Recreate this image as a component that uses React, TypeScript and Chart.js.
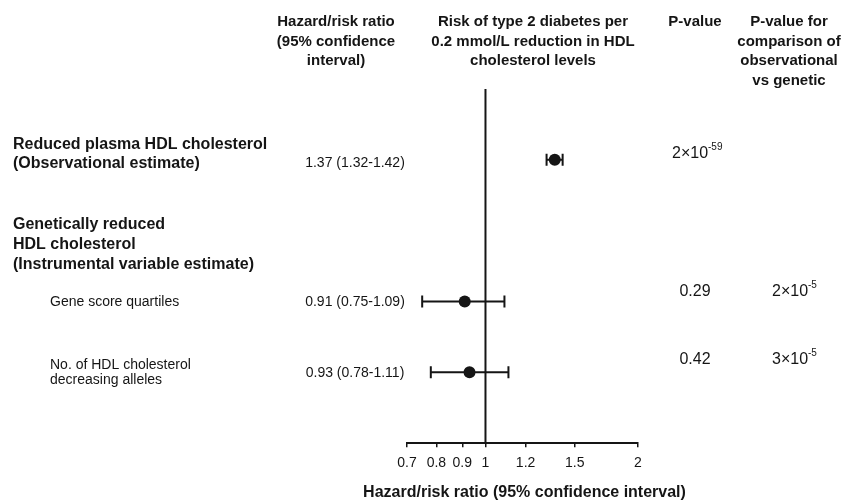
import React, { useEffect, useRef } from "react";
import { Chart, registerables } from "chart.js";

Chart.register(...registerables);

const FONT = "'Liberation Sans', Arial, Helvetica, sans-serif";
const INK = "#151515";

// Data
const rowPositions = [1, 3, 4];
const estimates = [1.37, 0.91, 0.93];
const lowerCI = [1.32, 0.75, 0.78];
const upperCI = [1.42, 1.09, 1.11];
const estimateLabels = ["1.37 (1.32-1.42)", "0.91 (0.75-1.09)", "0.93 (0.78-1.11)"];
const pValueBase = ["2×10", "0.29", "0.42"];
const pValueExp = ["-59", "", ""];
const pCompareBase = ["", "2×10", "3×10"];
const pCompareExp = ["", "-5", "-5"];
const tickValues = [0.7, 0.8, 0.9, 1, 1.2, 1.5, 2];
const axisTitle = "Hazard/risk ratio (95% confidence interval)";

const headerRatio = ["Hazard/risk ratio", "(95% confidence", "interval)"];
const headerRisk = ["Risk of type 2 diabetes per", "0.2 mmol/L reduction in HDL", "cholesterol levels"];
const headerP = ["P-value"];
const headerPCompare = ["P-value for", "comparison of", "observational", "vs genetic"];

const groupLabel1 = ["Reduced plasma HDL cholesterol", "(Observational estimate)"];
const groupLabel2 = ["Genetically reduced", "HDL cholesterol", "(Instrumental variable estimate)"];
const subLabel1 = ["Gene score quartiles"];
const subLabel2 = ["No. of HDL cholesterol", "decreasing alleles"];

function drawLines(ctx: CanvasRenderingContext2D, lines: string[], x: number, y: number, gap: number, align: CanvasTextAlign, font: string) {
  ctx.font = font;
  ctx.textAlign = align;
  lines.forEach((l, i) => ctx.fillText(l, x, y + i * gap));
}

function drawPower(ctx: CanvasRenderingContext2D, base: string, exp: string, x: number, y: number, align: "left" | "center") {
  if (!base) return;
  ctx.font = `16px ${FONT}`;
  const bw = ctx.measureText(base).width;
  ctx.font = `10px ${FONT}`;
  const ew = exp ? ctx.measureText(exp).width : 0;
  const start = align === "center" ? x - (bw + ew) / 2 : x;
  ctx.textAlign = "left";
  ctx.font = `16px ${FONT}`;
  ctx.fillText(base, start, y);
  if (exp) {
    ctx.font = `10px ${FONT}`;
    ctx.fillText(exp, start + bw, y - 7);
  }
}

const forestPlugin = {
  id: "forestExtras",
  beforeDatasetsDraw(chart: any) {
    const { ctx, chartArea } = chart;
    const xs = chart.scales.x;
    const ys = chart.scales.y;
    ctx.save();
    // reference line at 1
    const x1 = xs.getPixelForValue(1);
    ctx.strokeStyle = INK;
    ctx.lineWidth = 2;
    ctx.beginPath();
    ctx.moveTo(x1, chartArea.top);
    ctx.lineTo(x1, chartArea.bottom);
    ctx.stroke();
    // error bars
    rowPositions.forEach((r, i) => {
      const y = ys.getPixelForValue(r);
      const xl = xs.getPixelForValue(lowerCI[i]);
      const xh = xs.getPixelForValue(upperCI[i]);
      ctx.lineWidth = 2;
      ctx.beginPath();
      ctx.moveTo(xl, y);
      ctx.lineTo(xh, y);
      ctx.moveTo(xl, y - 6);
      ctx.lineTo(xl, y + 6);
      ctx.moveTo(xh, y - 6);
      ctx.lineTo(xh, y + 6);
      ctx.stroke();
    });
    ctx.restore();
  },
  afterDraw(chart: any) {
    const { ctx, chartArea } = chart;
    ctx.save();
    ctx.fillStyle = INK;
    ctx.textBaseline = "middle";
    const bold = `bold 16px ${FONT}`;
    const bold15 = `bold 15px ${FONT}`;
    const reg14 = `14px ${FONT}`;
    // headers
    drawLines(ctx, headerRatio, 336, 22, 19.5, "center", bold15);
    drawLines(ctx, headerRisk, 533, 22, 19.5, "center", bold15);
    drawLines(ctx, headerP, 695, 22, 19.5, "center", bold15);
    drawLines(ctx, headerPCompare, 789, 22, 19.5, "center", bold15);
    // row labels
    drawLines(ctx, groupLabel1, 13, 145, 18.5, "left", bold);
    drawLines(ctx, groupLabel2, 13, 225, 20, "left", bold);
    drawLines(ctx, subLabel1, 50, 302, 15, "left", reg14);
    drawLines(ctx, subLabel2, 50, 365, 15.5, "left", reg14);
    // estimates text
    const estY = [163, 302, 373];
    estimateLabels.forEach((t, i) => drawLines(ctx, [t], 355, estY[i], 0, "center", reg14));
    // p-values
    const pY = [154, 292, 360];
    pValueBase.forEach((b, i) => {
      if (pValueExp[i]) drawPower(ctx, b, pValueExp[i], 672, pY[i], "left");
      else drawPower(ctx, b, "", 695, pY[i], "center");
    });
    pCompareBase.forEach((b, i) => drawPower(ctx, b, pCompareExp[i], 772, pY[i], "left"));
    // x-axis title (drawn without width limit)
    drawLines(ctx, [axisTitle], (chartArea.left + chartArea.right) / 2 + 2, 493, 0, "center", bold);
    ctx.restore();
  },
};

export default function App() {
  const ref = useRef<HTMLCanvasElement | null>(null);
  useEffect(() => {
    if (!ref.current) return;
    const chart = new Chart(ref.current, {
      type: "scatter",
      data: {
        datasets: [
          {
            data: rowPositions.map((r, i) => ({ x: estimates[i], y: r })),
            pointRadius: 6,
            pointHoverRadius: 6,
            backgroundColor: INK,
            borderWidth: 0,
          },
        ],
      },
      options: {
        responsive: false,
        animation: false,
        devicePixelRatio: 1,
        layout: { padding: { left: 407, right: 213, top: 89, bottom: 21 } },
        plugins: { legend: { display: false }, tooltip: { enabled: false } },
        scales: {
          x: {
            type: "logarithmic",
            min: 0.7,
            max: 2,
            afterBuildTicks: (axis: any) => {
              axis.ticks = tickValues.map((v) => ({ value: v }));
            },
            ticks: {
              autoSkip: false,
              maxRotation: 0,
              padding: 8,
              color: INK,
              font: { family: FONT, size: 14 },
              callback: (v: any) => String(v),
            },
            grid: { drawOnChartArea: false, tickLength: 4, color: INK, lineWidth: 1.5 },
            border: { display: true, color: INK, width: 2 },
            title: { display: false },
          },
          y: { type: "linear", min: 0, max: 5, reverse: true, display: false },
        },
      },
      plugins: [forestPlugin],
    } as any);
    return () => chart.destroy();
  }, []);
  return (
    <div style={{ position: "fixed", left: 0, top: 0, width: 851, height: 501, background: "#fff" }}>
      <canvas ref={ref} width={851} height={501} />
    </div>
  );
}
